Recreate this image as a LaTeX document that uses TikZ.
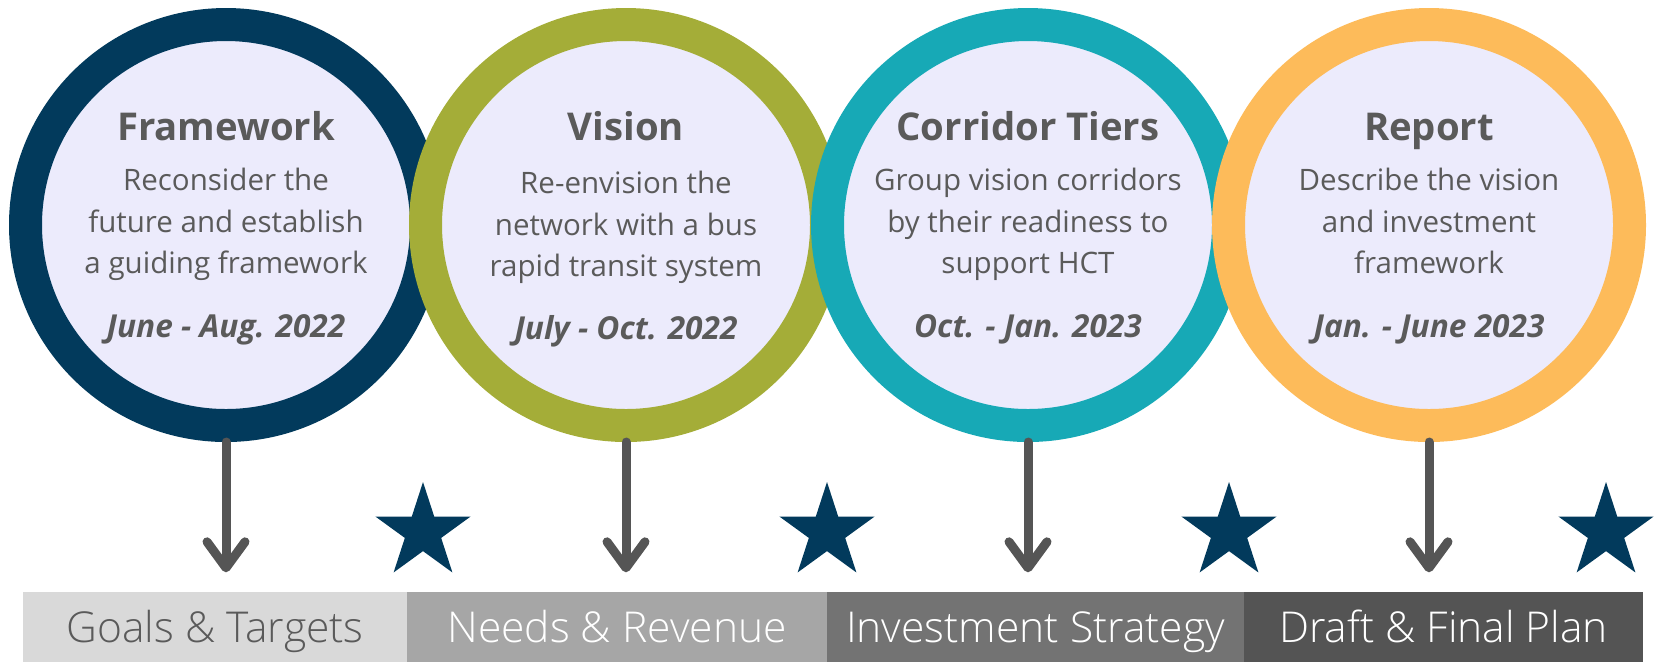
\documentclass[tikz,border=0pt]{standalone}
\usepackage{fontspec}
\setmainfont{Open Sans}
\newfontfamily\barfont{Open Sans Light}
\usetikzlibrary{shapes.geometric,arrows.meta}

\definecolor{navy}{HTML}{023A5C}
\definecolor{olive}{HTML}{A4AD38}
\definecolor{teal}{HTML}{17A9B6}
\definecolor{amber}{HTML}{FDBB5A}
\definecolor{lavender}{HTML}{ECEBFC}
\definecolor{ink}{HTML}{5A5A5A}
\definecolor{arrowgray}{HTML}{555555}
\definecolor{barA}{HTML}{D9D9D9}
\definecolor{barB}{HTML}{A6A6A6}
\definecolor{barC}{HTML}{737373}
\definecolor{barD}{HTML}{545454}

\tikzstyle{phase}=[shape=circle,fill=lavender,line width=3.3mm,minimum size=40.1mm,inner sep=0pt]
\tikzstyle{title}=[anchor=base,text=ink,font=\fontsize{10.9}{12}\selectfont\bfseries]
\tikzstyle{body}=[anchor=base,text=ink,align=center,font=\fontsize{8.4}{11.67}\selectfont]
\tikzstyle{date}=[anchor=base,text=ink,font=\fontsize{9}{10}\selectfont\bfseries\itshape]
\tikzstyle{flow}=[draw=arrowgray,line width=0.9mm,line cap=round,-{Straight Barb[length=2.6mm,width=3.8mm,line cap=round,line join=round]},shorten >=1.9mm]
\tikzstyle{milestone}=[shape=star,star points=5,star point ratio=2.618,minimum size=10mm,inner sep=0pt,fill=navy]
\tikzstyle{bar}=[shape=rectangle,minimum height=7mm,inner sep=0pt,text height=3.1mm,text depth=0mm,font=\barfont\fontsize{12.1}{14}\selectfont]

\begin{document}
\begin{tikzpicture}[x=0.1mm,y=-0.1mm]
\useasboundingbox (0,0) rectangle (1656,662);
% bottom bar
\node[bar,fill=barA,text=ink,minimum width=38.4mm] (g1) at (215,627) {Goals \& Targets};
\node[bar,fill=barB,text=white,minimum width=42mm] (g2) at (617,627) {Needs \& Revenue};
\node[bar,fill=barC,text=white,minimum width=41.7mm] (g3) at (1035.5,627) {Investment Strategy};
\node[bar,fill=barD,text=white,minimum width=39.9mm] (g4) at (1443.5,627) {Draft \& Final Plan};
% 1st phase
\node[phase,draw=navy] (c1) at (226,225) {};
\node[title] (t1) at (226,140) {Framework};
\node[body] (b1) at (226,273) {Reconsider the\\future and establish\\a guiding framework};
\node[date] (d1) at (226,337) {June - Aug. 2022};
% 2nd phase
\node[phase,draw=olive] (c2) at (626,225) {};
\node[title] (t2) at (626,140) {Vision};
\node[body] (b2) at (626,276) {Re-envision the\\network with a bus\\rapid transit system};
\node[date] (d2) at (626,339) {July - Oct. 2022};
% 3rd phase
\node[phase,draw=teal] (c3) at (1028,225) {};
\node[title] (t3) at (1028,140) {Corridor Tiers};
\node[body] (b3) at (1028,273) {Group vision corridors\\by their readiness to\\support HCT};
\node[date] (d3) at (1028,337) {Oct. - Jan. 2023};
% 4th phase
\node[phase,draw=amber] (c4) at (1429,225) {};
\node[title] (t4) at (1429,140) {Report};
\node[body] (b4) at (1429,273) {Describe the vision\\and investment\\framework};
\node[date] (d4) at (1429,337) {Jan. - June 2023};
% arrows
\draw[flow] (c1.south) -- (c1.south |- g1.north);
\draw[flow] (c2.south) -- (c2.south |- g2.north);
\draw[flow] (c3.south) -- (c3.south |- g3.north);
\draw[flow] (c4.south) -- (c4.south |- g4.north);
% stars
\node[milestone] (s1) at (423,532) {};
\node[milestone] (s2) at (827,532) {};
\node[milestone] (s3) at (1229,532) {};
\node[milestone] (s4) at (1606,532) {};
\end{tikzpicture}
\end{document}
